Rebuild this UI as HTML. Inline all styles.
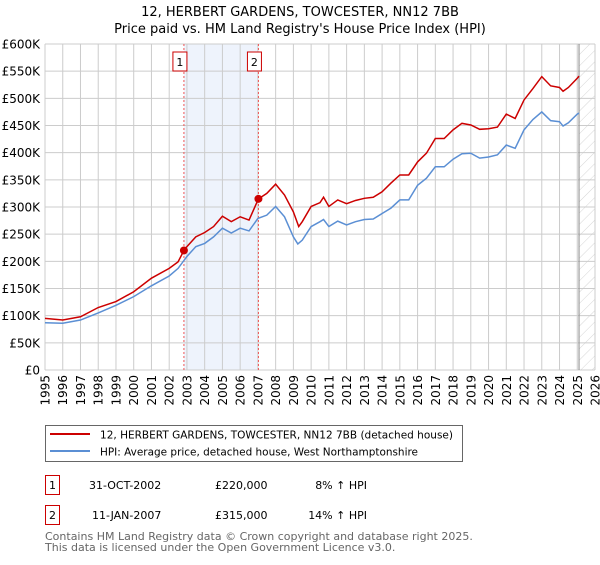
<!DOCTYPE html>
<html><head><meta charset="utf-8"><style>
body{margin:0;background:#fff;}
svg text{font-family:"DejaVu Sans","Liberation Sans",sans-serif;}
</style></head><body>
<svg id="chart" width="600" height="560" xmlns="http://www.w3.org/2000/svg">
<defs><pattern id="hatch" patternUnits="userSpaceOnUse" width="8" height="8" patternTransform="rotate(45)"><line x1="0" y1="0" x2="0" y2="8" stroke="#ccc" stroke-width="0.8"/></pattern></defs>
<text x="300" y="16" text-anchor="middle" font-size="13">12, HERBERT GARDENS, TOWCESTER, NN12 7BB</text>
<text x="300" y="33" text-anchor="middle" font-size="13">Price paid vs. HM Land Registry's House Price Index (HPI)</text>
<g id="plot"></g>
<g>
<rect x="45.5" y="425.5" width="417" height="36" fill="#fff" stroke="#666"/>
<line x1="50" y1="434" x2="90" y2="434" stroke="#cc0000" stroke-width="2"/>
<text x="100" y="438.5" font-size="11" textLength="353" lengthAdjust="spacingAndGlyphs">12, HERBERT GARDENS, TOWCESTER, NN12 7BB (detached house)</text>
<line x1="50" y1="451" x2="90" y2="451" stroke="#5b8fd4" stroke-width="2"/>
<text x="100" y="455.5" font-size="11" textLength="318" lengthAdjust="spacingAndGlyphs">HPI: Average price, detached house, West Northamptonshire</text>
</g>
<g font-size="11">
<rect x="45.5" y="475.5" width="14" height="19" fill="#fff" stroke="#cc0000"/>
<text x="52.5" y="489" text-anchor="middle">1</text>
<text x="89" y="489">31-OCT-2002</text>
<text x="215" y="489">£220,000</text>
<text x="367" y="489" text-anchor="end">8% ↑ HPI</text>
<rect x="45.5" y="505.5" width="14" height="19" fill="#fff" stroke="#cc0000"/>
<text x="52.5" y="519" text-anchor="middle">2</text>
<text x="92" y="519">11-JAN-2007</text>
<text x="215" y="519">£315,000</text>
<text x="367" y="519" text-anchor="end">14% ↑ HPI</text>
</g>
<text x="45" y="540" font-size="11" fill="#666">Contains HM Land Registry data © Crown copyright and database right 2025.</text>
<text x="45" y="551" font-size="11" fill="#666">This data is licensed under the Open Government Licence v3.0.</text>
</svg>
<script>
const hpiYears=[1995,1996,1997,1998,1999,2000,2001,2002,2002.5,2003,2003.5,2004,2004.5,2005,2005.5,2006,2006.5,2007,2007.5,2008,2008.5,2009,2009.25,2009.5,2010,2010.5,2010.7,2011,2011.5,2012,2012.5,2013,2013.5,2014,2014.5,2015,2015.5,2016,2016.5,2017,2017.5,2018,2018.5,2019,2019.5,2020,2020.5,2021,2021.5,2022,2022.5,2023,2023.5,2024,2024.2,2024.5,2025,2025.1];
const hpiValues=[87,86,92,105,119,135,155,173,187,209,227,233,245,261,252,261,256,279,285,301,282,245,232,239,264,273,277,264,274,267,273,277,278,288,298,313,313,340,353,374,374,388,398,399,390,392,396,414,408,442,461,475,459,457,449,455,471,473];
const redYears=[1995,1996,1997,1998,1999,2000,2001,2002,2002.5,2002.83,2003,2003.5,2004,2004.5,2005,2005.5,2006,2006.5,2007.03,2007.5,2008,2008.5,2009,2009.3,2009.5,2010,2010.5,2010.7,2011,2011.5,2012,2012.5,2013,2013.5,2014,2014.5,2015,2015.5,2016,2016.5,2017,2017.5,2018,2018.5,2019,2019.5,2020,2020.5,2021,2021.5,2022,2022.5,2023,2023.5,2024,2024.2,2024.5,2025,2025.1];
const redValues=[95,92,98,115,126,144,169,187,199,220,227,245,253,264,283,273,282,276,315,325,342,322,291,264,273,301,308,318,301,313,306,312,316,318,328,344,359,359,383,399,426,426,442,454,451,443,444,447,471,463,497,518,540,523,520,513,520,537,541];
const saleYears=[2002.83,2007.03];
const saleValues=[220,315];
const saleLabels=["1","2"];
const yTicks=[0,50,100,150,200,250,300,350,400,450,500,550,600];
const yTickLabels=["£0","£50K","£100K","£150K","£200K","£250K","£300K","£350K","£400K","£450K","£500K","£550K","£600K"];
const xTicks=[1995,1996,1997,1998,1999,2000,2001,2002,2003,2004,2005,2006,2007,2008,2009,2010,2011,2012,2013,2014,2015,2016,2017,2018,2019,2020,2021,2022,2023,2024,2025,2026];
const dataEnd=2025.1;

const X0=45,X1=595,Y0=370,Y1=44;
const xs=y=>X0+(y-1995)/(2026-1995)*(X1-X0);
const ys=v=>Y0-v/600*(Y0-Y1);
const NS="http://www.w3.org/2000/svg";
const g=document.getElementById('plot');
function mk(tag,attrs){const e=document.createElementNS(NS,tag);for(const k in attrs)e.setAttribute(k,attrs[k]);g.appendChild(e);return e;}
let e;
e=mk('rect',{x:xs(saleYears[0]),y:Y1,width:xs(saleYears[1])-xs(saleYears[0]),height:Y0-Y1,fill:'#eef3fc'});


e=mk('rect',{x:xs(dataEnd),y:Y1,width:X1-xs(dataEnd),height:Y0-Y1,fill:'url(#hatch)'});


yTicks.forEach((t,i)=>{
 e=mk('line',{x1:X0,x2:X1,y1:ys(t),y2:ys(t),stroke:'#ccc','stroke-width':1});
 
 
 e=mk('text',{x:40,y:ys(t)+4.5,'text-anchor':'end','font-size':12});
 e.textContent=yTickLabels[i];
 
 
});
xTicks.forEach(t=>{
 e=mk('line',{x1:xs(t),x2:xs(t),y1:Y1,y2:Y0,stroke:'#ccc','stroke-width':1});
 
 
 e=mk('text',{x:0,y:0,'font-size':12,'text-anchor':'end',transform:`translate(${xs(t)+4.5},375) rotate(-90)`});
 e.textContent=t;
 
 
});
e=mk('line',{x1:xs(dataEnd),x2:xs(dataEnd),y1:Y1,y2:Y0,stroke:'#888','stroke-width':1});


saleYears.forEach((s,i)=>{
 e=mk('line',{x1:xs(s),x2:xs(s),y1:Y1,y2:Y0,stroke:'#e55','stroke-width':1,'stroke-dasharray':'2,2'});
 
 
 e=mk('rect',{x:xs(s)-11,y:52,width:14,height:19,fill:'#fff',stroke:'#cc0000'});
 
 
 e=mk('text',{x:xs(s)-4,y:66,'text-anchor':'middle','font-size':11});
 e.textContent=saleLabels[i];
 
 
});
e=mk('polyline',{points:hpiYears.map((y,i)=>xs(y)+','+ys(hpiValues[i])).join(' '),fill:'none',stroke:'#5b8fd4','stroke-width':1.5});


e=mk('polyline',{points:redYears.map((y,i)=>xs(y)+','+ys(redValues[i])).join(' '),fill:'none',stroke:'#cc0000','stroke-width':1.5});


saleYears.forEach((s,i)=>{
 e=mk('circle',{cx:xs(s),cy:ys(saleValues[i]),r:4,fill:'#cc0000'});
 
 
});
</script>
</body></html>
